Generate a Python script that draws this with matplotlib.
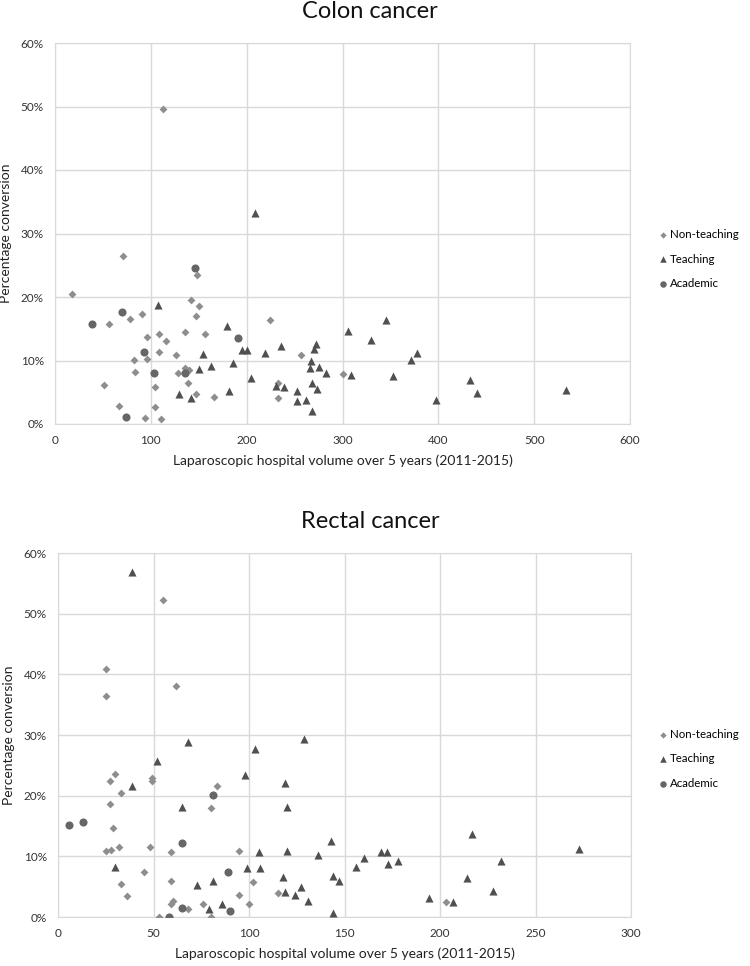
import matplotlib.pyplot as plt
from matplotlib.ticker import PercentFormatter

plt.rcParams['font.family'] = ['Lato', 'DejaVu Sans']

# Colon cancer: (volume, % conversion)
colon_nonteach_x = [113, 71, 18, 148, 142, 150, 147, 78, 91, 56, 96, 108, 116, 136, 157, 224,
                    108, 126, 96, 82, 83, 128, 136, 140, 139, 257, 301, 51, 104, 67, 94, 111,
                    104, 147, 166, 233, 233]
colon_nonteach_y = [49.6, 26.5, 20.5, 23.5, 19.5, 18.6, 17.0, 16.6, 17.4, 15.8, 13.7, 14.2, 13.1,
                    14.5, 14.2, 16.3, 11.3, 10.9, 10.3, 10.1, 8.2, 8.0, 8.8, 8.5, 6.5, 10.9, 7.9,
                    6.1, 5.8, 2.9, 1.0, 0.8, 2.7, 4.7, 4.2, 6.5, 4.1]
colon_teach_x = [209, 107, 179, 154, 163, 150, 186, 195, 200, 204, 219, 236, 272, 270, 267, 266,
                 275, 283, 306, 129, 142, 182, 231, 239, 252, 252, 262, 268, 273, 268, 345, 330,
                 378, 371, 309, 353, 433, 398, 440, 533]
colon_teach_y = [33.2, 18.7, 15.5, 11.0, 9.2, 8.6, 9.6, 11.6, 11.7, 7.2, 11.2, 12.3, 12.6, 11.8,
                 9.9, 8.8, 9.0, 8.1, 14.6, 4.7, 4.1, 5.2, 6.0, 5.8, 5.2, 3.7, 3.8, 6.4, 5.5, 2.1,
                 16.3, 13.3, 11.2, 10.1, 7.7, 7.5, 7.0, 3.8, 4.9, 5.4]
colon_acad_x = [39, 70, 93, 103, 136, 146, 191, 74]
colon_acad_y = [15.8, 17.7, 11.4, 8.1, 8.1, 24.6, 13.5, 1.1]

# Rectal cancer
rectal_nonteach_x = [55, 25, 25, 62, 27, 30, 33, 27, 49, 49, 83, 80, 29, 25, 28, 32, 48, 59, 95,
                     45, 33, 59, 102, 36, 59, 60, 68, 76, 80, 53, 95, 100, 115, 203]
rectal_nonteach_y = [52.3, 40.8, 36.4, 38.0, 22.4, 23.5, 20.5, 18.7, 22.9, 22.5, 21.6, 17.9, 14.6,
                     10.9, 11.0, 11.5, 11.5, 10.7, 10.8, 7.4, 5.4, 5.9, 5.8, 3.5, 2.2, 2.6, 1.4,
                     2.2, 0.0, 0.0, 3.6, 2.1, 4.0, 2.4]
rectal_teach_x = [39, 52, 68, 103, 129, 98, 119, 120, 65, 39, 105, 120, 136, 143, 144, 147, 99,
                  106, 118, 127, 73, 81, 30, 86, 79, 119, 124, 131, 144, 160, 156, 169, 172, 173,
                  178, 217, 232, 214, 273, 194, 207, 228]
rectal_teach_y = [56.8, 25.7, 28.8, 27.7, 29.3, 23.4, 22.1, 18.2, 18.1, 21.6, 10.7, 10.8, 10.2,
                  12.5, 6.8, 5.9, 8.1, 8.1, 6.6, 5.0, 5.2, 5.9, 8.2, 2.2, 1.4, 4.1, 3.6, 2.7, 0.7,
                  9.7, 8.2, 10.7, 10.7, 8.8, 9.3, 13.6, 9.2, 6.5, 11.2, 3.2, 2.5, 4.3]
rectal_acad_x = [6, 13, 65, 81, 89, 65, 58, 90]
rectal_acad_y = [15.1, 15.7, 12.2, 20.1, 7.4, 1.5, 0.0, 1.0]

labels = ['Non-teaching', 'Teaching', 'Academic']
c_diamond = '#8e8e8e'
c_tri = '#505050'
c_circ = '#666666'
grid_c = '#d9d9d9'

fig = plt.figure(figsize=(7.5, 9.66), dpi=100)
W, H = 750, 966


def make_panel(rect, title, title_y, xmax, xstep, data, legend_y):
    left, top, right, bottom = rect
    ax = fig.add_axes([left / W, 1 - bottom / H, (right - left) / W, (bottom - top) / H])
    (nx, ny), (tx, ty), (ax_, ay) = data
    ax.scatter(nx, ny, marker='D', s=16, color=c_diamond, label=labels[0], zorder=3, linewidths=0)
    ax.scatter(tx, ty, marker='^', s=34, color=c_tri, label=labels[1], zorder=3, linewidths=0)
    ax.scatter(ax_, ay, marker='o', s=34, color=c_circ, label=labels[2], zorder=3, linewidths=0)
    ax.set_xlim(0, xmax)
    ax.set_ylim(0, 60)
    ax.set_xticks(range(0, xmax + 1, xstep))
    ax.set_yticks(range(0, 61, 10))
    ax.yaxis.set_major_formatter(PercentFormatter(decimals=0))
    ax.grid(True, color=grid_c, linewidth=1)
    ax.set_axisbelow(True)
    for s in ax.spines.values():
        s.set_color(grid_c)
    ax.tick_params(length=0, labelsize=8.5, colors='#333333', pad=8)
    ax.set_xlabel('Laparoscopic hospital volume over 5 years (2011-2015)', fontsize=10,
                  color='#222222', labelpad=6)
    ax.set_ylabel('Percentage conversion', fontsize=10, color='#222222', labelpad=6)
    fig.text(370 / W, 1 - title_y / H, title, ha='center', va='center', fontsize=17,
             color='#111111')
    ax.legend(loc='center left', bbox_to_anchor=(656 / W, 1 - legend_y / H),
              bbox_transform=fig.transFigure, frameon=False, fontsize=8.3,
              handletextpad=0.0, handlelength=1.2, labelspacing=1.2, borderpad=0,
              borderaxespad=0, markerscale=0.8)
    return ax


make_panel((55, 43, 630, 424), 'Colon cancer', 12, 600, 100,
           ((colon_nonteach_x, colon_nonteach_y), (colon_teach_x, colon_teach_y),
            (colon_acad_x, colon_acad_y)), 259)
make_panel((58, 553, 631, 917), 'Rectal cancer', 522, 300, 50,
           ((rectal_nonteach_x, rectal_nonteach_y), (rectal_teach_x, rectal_teach_y),
            (rectal_acad_x, rectal_acad_y)), 759)

fig.savefig('out.png', dpi=100)
